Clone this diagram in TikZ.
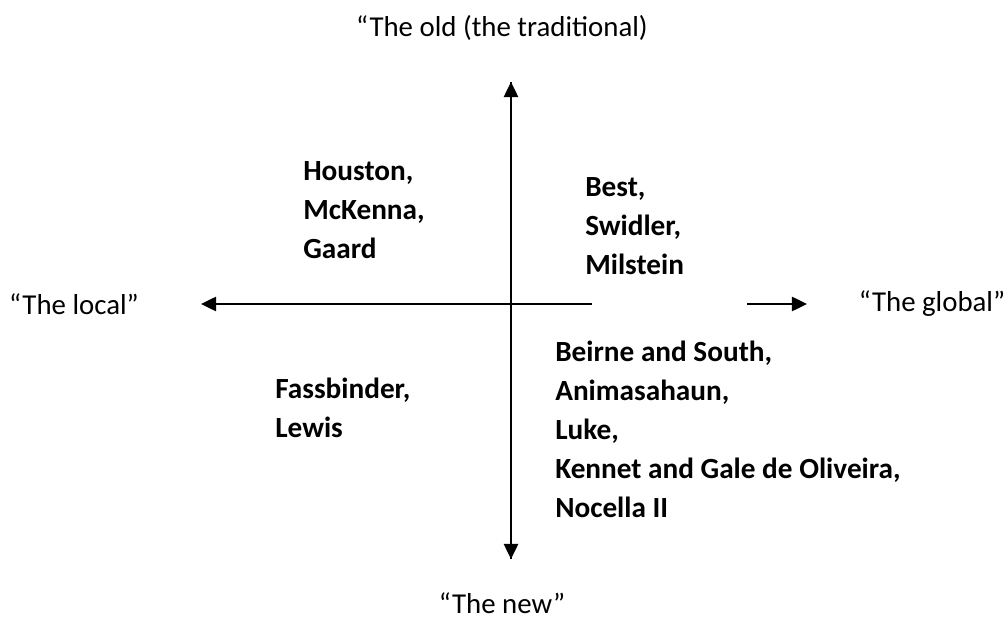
\documentclass[tikz,border=0pt]{standalone}
\usepackage{fontspec}
\setmainfont{Carlito}
\usepackage{tikz}
\usetikzlibrary{arrows.meta,positioning}
\tikzset{
  pole/.style={font=\fontsize{20.5}{24}\selectfont, inner sep=0pt},
  names/.style={font=\fontsize{20.8}{27.7}\selectfont\bfseries, align=left, inner sep=0pt, anchor=west},
  axis/.style={-{Triangle[length=3.8mm, width=3.6mm]}, line width=1.3pt},
}

\begin{document}
\begin{tikzpicture}[x=0.025cm, y=-0.025cm]
  \useasboundingbox (0,0) rectangle (1008,622);
  % poles of the two axes
  \node[pole] (old) at (502,28) {“The old (the traditional)};
  \node[pole] (new) at (502,603) {“The new”};
  \node[pole] (local) at (74,304) {“The local”};
  \node[pole] (global) at (932,304) {“The global”};

  \coordinate (top) at (511,82);
  \coordinate (bottom) at (511,559);
  \coordinate (localtip) at (201,304);
  \coordinate (localstart) at (592,304);
  \coordinate (globalstart) at (747,304);
  \coordinate (globaltip) at (807,304);

  \draw[axis] (bottom) -- (top);
  \draw[axis] (top) -- (bottom);
  \draw[axis] (localstart) -- (localtip);
  \draw[axis] (globalstart) -- (globaltip);

  % authors in each quarter
  \node[names] (oldlocal) at (303,210) {Houston,\\McKenna,\\Gaard};
  \node[names] (oldglobal) at (585,226) {Best,\\Swidler,\\Milstein};
  \node[names] (newlocal) at (275,408) {Fassbinder,\\Lewis};
  \node[names] (newglobal) at (555,429) {Beirne and South,\\Animasahaun,\\Luke,\\Kennet and Gale de Oliveira,\\Nocella II};
\end{tikzpicture}
\end{document}
